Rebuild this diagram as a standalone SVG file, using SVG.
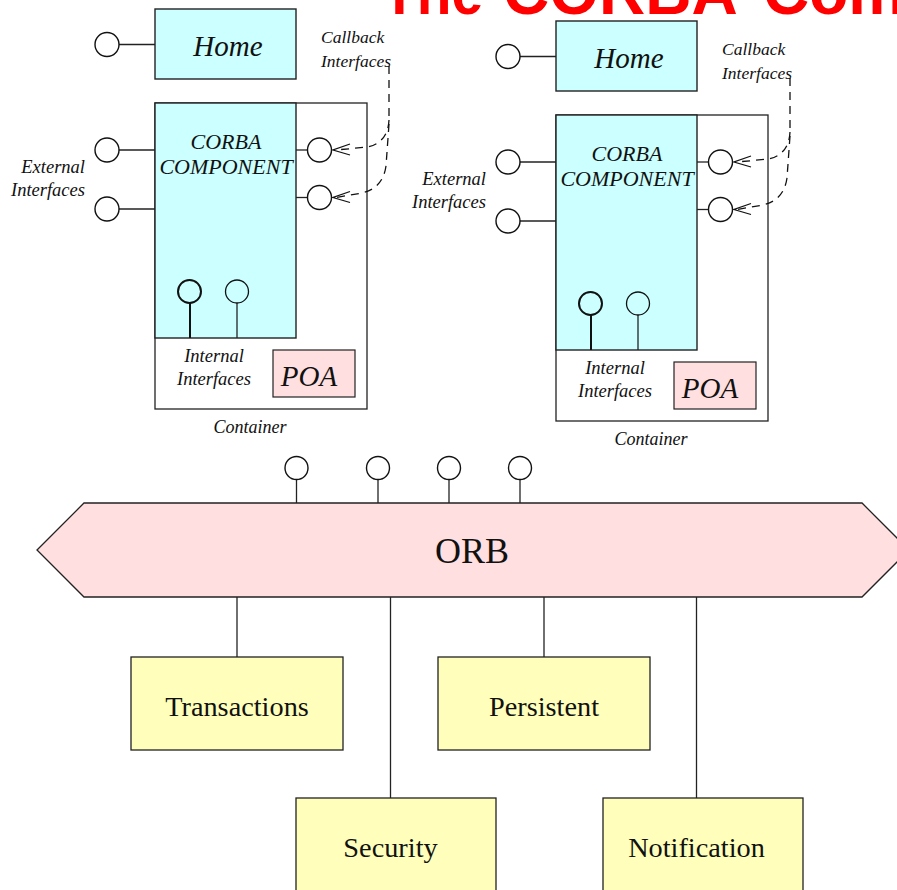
<svg xmlns="http://www.w3.org/2000/svg" width="897" height="890" viewBox="0 0 897 890">
<defs>
<style>
.it{font-family:"Liberation Serif","Times New Roman",serif;font-style:italic;fill:#111}
.rm{font-family:"Liberation Serif","Times New Roman",serif;fill:#111}
.ln{stroke:#222;stroke-width:1.3;fill:none}
.ci{stroke:#111;stroke-width:1.4;fill:#fff}
.cyan{fill:#ccffff;stroke:#222;stroke-width:1.4}
.pink{fill:#ffdfdf;stroke:#222;stroke-width:1.2}
.yel{fill:#ffffbb;stroke:#222;stroke-width:1.3}
.dash{stroke:#111;stroke-width:1.3;fill:none;stroke-dasharray:8 6}
.arr{stroke:#111;stroke-width:1.3;fill:none}
</style>
<g id="compTemplate">
  <rect x="155" y="103" width="212" height="306" fill="#fff" stroke="#222" stroke-width="1.3"/>
  <rect class="cyan" x="155" y="103" width="141" height="235"/>
  <rect class="cyan" x="155" y="9" width="141" height="70"/>
  <text class="it" x="228" y="56" font-size="29" text-anchor="middle">Home</text>
  <line class="ln" x1="119" y1="44.5" x2="155" y2="44.5"/>
  <circle class="ci" cx="107" cy="44.5" r="12"/>
  <text class="it" x="226" y="149" font-size="22" text-anchor="middle">CORBA</text>
  <text class="it" x="226" y="174" font-size="22" text-anchor="middle">COMPONENT</text>
  <line class="ln" x1="119" y1="150" x2="155" y2="150"/>
  <circle class="ci" cx="107" cy="150" r="12"/>
  <line class="ln" x1="119" y1="209" x2="155" y2="209"/>
  <circle class="ci" cx="107" cy="209" r="12"/>
  <text class="it" x="85" y="173" font-size="18.5" text-anchor="end">External</text>
  <text class="it" x="85" y="196" font-size="18.5" text-anchor="end">Interfaces</text>
  <line class="ln" x1="296" y1="150" x2="307" y2="150"/>
  <circle class="ci" cx="319.5" cy="150" r="12"/>
  <line class="ln" x1="296" y1="197.5" x2="307" y2="197.5"/>
  <circle class="ci" cx="319.5" cy="197.5" r="12"/>
  <text class="it" x="321" y="43" font-size="17.5">Callback</text>
  <text class="it" x="321" y="67" font-size="17.5">Interfaces</text>
  <path class="dash" d="M389,66 L389,120"/>
  <path class="dash" d="M389,120 Q388,142 368,147 L336,150"/>
  <path class="dash" d="M389,124 L386,166 Q383,188 362,193 L336,197.5"/>
  <path class="arr" d="M350,144 L333,150 L350,155"/>
  <path class="arr" d="M350,191.5 L333,197.5 L350,202.5"/>
  <line x1="190" y1="303" x2="190" y2="338" stroke="#111" stroke-width="2"/>
  <circle cx="189.5" cy="291.5" r="11.5" fill="#ccffff" stroke="#111" stroke-width="2"/>
  <line class="ln" x1="237" y1="303" x2="237" y2="338"/>
  <circle cx="237" cy="291.5" r="11.5" fill="#ccffff" stroke="#111" stroke-width="1.3"/>
  <text class="it" x="214" y="362" font-size="18.5" text-anchor="middle">Internal</text>
  <text class="it" x="214" y="385" font-size="18.5" text-anchor="middle">Interfaces</text>
  <rect class="pink" x="273" y="350" width="82" height="47"/>
  <text class="it" x="309" y="386" font-size="29" text-anchor="middle">POA</text>
  <text class="it" x="250" y="433" font-size="18" text-anchor="middle">Container</text>
</g>
</defs>
<rect width="897" height="890" fill="#fff"/>
<text y="14" font-family="Liberation Sans,Arial,sans-serif" font-weight="bold" font-size="64" fill="#ff0000"><tspan x="382" textLength="101" lengthAdjust="spacingAndGlyphs">The</tspan><tspan x="503">CORBA</tspan><tspan x="763">Component Model</tspan></text>
<g id="component-left"><use href="#compTemplate"/></g>
<g id="component-right"><use href="#compTemplate" transform="translate(401,12)"/></g>
<g id="connectors">
  <line class="ln" x1="296.5" y1="480" x2="296.5" y2="503"/>
  <line class="ln" x1="378" y1="480" x2="378" y2="503"/>
  <line class="ln" x1="449" y1="480" x2="449" y2="503"/>
  <line class="ln" x1="520" y1="480" x2="520" y2="503"/>
  <line class="ln" x1="237" y1="597" x2="237" y2="657"/>
  <line class="ln" x1="390.5" y1="597" x2="390.5" y2="798"/>
  <line class="ln" x1="544" y1="597" x2="544" y2="657"/>
  <line class="ln" x1="696.5" y1="597" x2="696.5" y2="798"/>
</g>
<g id="orb">
  <polygon points="37,550 84,503 862,503 909,550 862,597 84,597" fill="#ffdfdf" stroke="#222" stroke-width="1.3"/>
  <text class="rm" x="472" y="563" font-size="36" text-anchor="middle">ORB</text>
  <circle class="ci" cx="296.5" cy="468" r="11.5"/>
  <circle class="ci" cx="378" cy="468" r="11.5"/>
  <circle class="ci" cx="449" cy="468" r="11.5"/>
  <circle class="ci" cx="520" cy="468" r="11.5"/>
</g>
<g id="transactions">
  <rect class="yel" x="131" y="657" width="212" height="93"/>
  <text class="rm" x="237" y="716" font-size="28.3" text-anchor="middle">Transactions</text>
</g>
<g id="persistent">
  <rect class="yel" x="438" y="657" width="212" height="93"/>
  <text class="rm" x="544" y="716" font-size="28.3" text-anchor="middle">Persistent</text>
</g>
<g id="security">
  <rect class="yel" x="296" y="798" width="200" height="100"/>
  <text class="rm" x="390.5" y="857" font-size="28.3" text-anchor="middle">Security</text>
</g>
<g id="notification">
  <rect class="yel" x="603" y="798" width="200" height="100"/>
  <text class="rm" x="696.5" y="857" font-size="28.3" text-anchor="middle">Notification</text>
</g>
</svg>
